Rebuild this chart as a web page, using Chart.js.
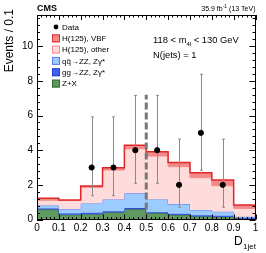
<!DOCTYPE html>
<html>
<head>
<meta charset="utf-8">
<script src="https://cdn.jsdelivr.net/npm/chart.js@4.4.0/dist/chart.umd.min.js"></script>
<style>
  html, body { margin: 0; padding: 0; background: #fff; }
</style>
</head>
<body>
<canvas id="myChart" width="266" height="253"></canvas>
<script>
// bin edges of D_1jet
const binEdges = [0, 0.1, 0.2, 0.3, 0.4, 0.5, 0.6, 0.7, 0.8, 0.9, 1.0];

// expected events per bin (each process on its own, stacked below)
const zPlusX  = [0.57, 0.27, 0.31, 0.41, 0.59, 0.36, 0.26, 0.17, 0.15, 0.05];
const ggZZ    = [0.07, 0.07, 0.08, 0.07, 0.07, 0.06, 0.07, 0.08, 0.07, 0.05];
const qqZZ    = [0.17, 0.25, 0.54, 0.68, 0.85, 0.74, 0.56, 0.30, 0.23, 0.06];
const hOther  = [0.30, 0.51, 0.92, 1.69, 2.57, 2.50, 2.16, 1.86, 1.50, 0.48];
const hVBF    = [0.12, 0.02, 0.08, 0.14, 0.21, 0.25, 0.24, 0.29, 0.33, 0.20];

// observed data
const dataX    = [0.25, 0.35, 0.45, 0.55, 0.65, 0.75, 0.85];
const dataY    = [3, 3, 4, 4, 2, 5, 2];
const dataLow  = [1.63, 1.63, 1.91, 1.91, 1.29, 2.16, 1.29];
const dataHigh = [2.92, 2.92, 3.16, 3.16, 2.64, 3.38, 2.64];

// cut line
const cutX = 0.5;
const cutTop = 7.2;

const xTicks = [0, 0.1, 0.2, 0.3, 0.4, 0.5, 0.6, 0.7, 0.8, 0.9, 1];
const yTicks = [0, 2, 4, 6, 8, 10];

const FONT = '"Liberation Sans", Arial, Helvetica, sans-serif';

// cumulative stack -> stepped line points
function cumulate(list) {
  const out = [];
  let run = new Array(list[0].length).fill(0);
  list.forEach(s => {
    run = run.map((v, i) => v + s[i]);
    out.push(run.slice());
  });
  return out;
}
function steps(vals) {
  const pts = vals.map((v, i) => ({ x: binEdges[i], y: v }));
  pts.push({ x: binEdges[binEdges.length - 1], y: vals[vals.length - 1] });
  return pts;
}

const stack = cumulate([zPlusX, ggZZ, qqZZ, hOther, hVBF]);

const procs = [
  { label: 'Z+X',            fill: '#5f995f', line: '#2f6a2f' },
  { label: 'gg→ZZ, Zγ*',     fill: '#3f62f0', line: '#2540c8' },
  { label: 'qq̄→ZZ, Zγ*',    fill: '#9cccff', line: '#5b7be6' },
  { label: 'H(125), other',  fill: '#ffdcdc', line: '#ff8a8a' },
  { label: 'H(125), VBF',    fill: '#f38a8a', line: '#e02828' }
];

const datasets = procs.map((p, i) => ({
  type: 'line',
  label: p.label,
  data: steps(stack[i]),
  stepped: true,
  borderColor: p.line,
  borderWidth: i === 4 ? 1.5 : 1,
  backgroundColor: p.fill,
  fill: i === 0 ? 'origin' : '-1',
  pointRadius: 0,
  order: 10 - i
}));

datasets.push({
  type: 'line',
  label: 'cut',
  data: [{ x: cutX, y: 0 }, { x: cutX, y: cutTop }],
  borderColor: '#777777',
  borderWidth: 3,
  borderDash: [7, 3],
  pointRadius: 0,
  fill: false,
  order: 2
});

datasets.push({
  type: 'scatter',
  label: 'Data',
  data: dataX.map((x, i) => ({ x: x, y: dataY[i] })),
  backgroundColor: '#000',
  borderColor: '#000',
  pointRadius: 2.6,
  order: 1
});
const DATA_INDEX = datasets.length - 1;

const decor = {
  id: 'decor',
  beforeDatasetDraw(chart, args) {
    if (args.index !== DATA_INDEX) return;
    const { ctx, scales: { x, y } } = chart;
    ctx.save();
    ctx.strokeStyle = '#8a8a8a';
    ctx.lineWidth = 1;
    dataX.forEach((v, i) => {
      const px = Math.round(x.getPixelForValue(v)) + 0.5;
      const lo = y.getPixelForValue(dataY[i] - dataLow[i]);
      const hi = y.getPixelForValue(dataY[i] + dataHigh[i]);
      ctx.beginPath();
      ctx.moveTo(px, lo); ctx.lineTo(px, hi);
      ctx.moveTo(px - 1.5, lo); ctx.lineTo(px + 1.5, lo);
      ctx.moveTo(px - 1.5, hi); ctx.lineTo(px + 1.5, hi);
      ctx.stroke();
    });
    ctx.restore();
  },
  afterDraw(chart) {
    const { ctx, chartArea: a, scales: { x, y } } = chart;
    ctx.save();
    ctx.strokeStyle = '#000';
    ctx.lineWidth = 1;
    // frame
    ctx.strokeRect(Math.round(a.left) + 0.5, Math.round(a.top) + 0.5,
      Math.round(a.right - a.left) - 1, Math.round(a.bottom - a.top) - 1);

    // inner ticks on all sides
    ctx.beginPath();
    for (let k = 0; k <= 50; k++) {
      const v = k * 0.02;
      const len = k % 5 === 0 ? 5 : 2.5;
      const px = Math.round(x.getPixelForValue(v)) + 0.5;
      ctx.moveTo(px, a.bottom); ctx.lineTo(px, a.bottom - len);
      ctx.moveTo(px, a.top); ctx.lineTo(px, a.top + len);
    }
    for (let k = 0; k * 0.4 <= y.max + 1e-6; k++) {
      const v = k * 0.4;
      const len = k % 5 === 0 ? 6 : 3;
      const py = Math.round(y.getPixelForValue(v)) + 0.5;
      ctx.moveTo(a.left, py); ctx.lineTo(a.left + len, py);
      ctx.moveTo(a.right, py); ctx.lineTo(a.right - len, py);
    }
    ctx.stroke();

    ctx.fillStyle = '#000';
    // header texts
    ctx.textBaseline = 'alphabetic';
    ctx.textAlign = 'left';
    ctx.font = 'bold 9px ' + FONT;
    ctx.fillText('CMS', a.left, 11);
    ctx.textAlign = 'right';
    ctx.font = '7px ' + FONT;
    const tail = ' (13 TeV)';
    const wTail = ctx.measureText(tail).width;
    ctx.fillText(tail, a.right, 11);
    ctx.font = '5px ' + FONT;
    const wSup = ctx.measureText('-1').width;
    ctx.fillText('-1', a.right - wTail, 8);
    ctx.font = '7px ' + FONT;
    ctx.fillText('35.9 fb', a.right - wTail - wSup, 11);

    // y title
    ctx.save();
    ctx.translate(10, 9);
    ctx.rotate(-Math.PI / 2);
    ctx.textAlign = 'right';
    ctx.textBaseline = 'middle';
    ctx.font = '12px ' + FONT;
    ctx.fillText('Events / 0.1', 0, 0);
    ctx.restore();

    // x title
    ctx.textAlign = 'left';
    ctx.font = '12px ' + FONT;
    ctx.fillText('D', 234, 245);
    ctx.font = '8px ' + FONT;
    ctx.fillText('1jet', 243, 248.5);

    // category text
    ctx.font = '9.4px ' + FONT;
    let tx = 153;
    ctx.fillText('118 < m', tx, 43);
    tx += ctx.measureText('118 < m').width;
    ctx.font = '6px ' + FONT;
    ctx.fillText('4l', tx, 45.5);
    tx += ctx.measureText('4l').width;
    ctx.font = '9.4px ' + FONT;
    ctx.fillText(' < 130 GeV', tx, 43);
    ctx.fillText('N(jets) = 1', 153, 58);

    // legend
    ctx.font = '8px ' + FONT;
    ctx.textBaseline = 'middle';
    const rows = [
      { label: 'Data', dot: true },
      procs[4], procs[3], procs[2], procs[1], procs[0]
    ];
    rows.forEach((r, i) => {
      const cy = 27 + i * 11.3;
      if (r.dot) {
        ctx.beginPath();
        ctx.arc(56, cy, 2.4, 0, Math.PI * 2);
        ctx.fillStyle = '#000';
        ctx.fill();
      } else {
        ctx.fillStyle = r.fill;
        ctx.fillRect(52, cy - 3.5, 7.5, 7.5);
        ctx.strokeStyle = r.line;
        ctx.strokeRect(52.5, cy - 3.5, 7, 7);
      }
      ctx.fillStyle = '#000';
      ctx.fillText(r.label, 62, cy + 0.5);
    });
    ctx.restore();
  }
};

new Chart(document.getElementById('myChart'), {
  type: 'line',
  data: { datasets: datasets },
  options: {
    responsive: false,
    animation: false,
    devicePixelRatio: 1,
    layout: { padding: { left: 0, right: 10.5, top: 15, bottom: 0 } },
    plugins: { legend: { display: false }, tooltip: { enabled: false } },
    scales: {
      x: {
        type: 'linear',
        min: 0, max: 1,
        afterBuildTicks: s => { s.ticks = xTicks.map(v => ({ value: v })); },
        afterFit: s => { s.height = 33.5; },
        grid: { display: false, drawTicks: false },
        border: { display: false },
        ticks: {
          color: '#000', padding: 3,
          font: { family: FONT, size: 10 },
          maxRotation: 0, autoSkip: false,
          callback: v => String(v)
        }
      },
      y: {
        type: 'linear',
        min: 0, max: 11.8,
        afterBuildTicks: s => { s.ticks = yTicks.map(v => ({ value: v })); },
        afterFit: s => { s.width = 37; },
        grid: { display: false, drawTicks: false },
        border: { display: false },
        ticks: {
          color: '#000', padding: 4,
          font: { family: FONT, size: 10 },
          callback: v => String(v)
        }
      }
    }
  },
  plugins: [decor]
});
</script>
</body>
</html>
